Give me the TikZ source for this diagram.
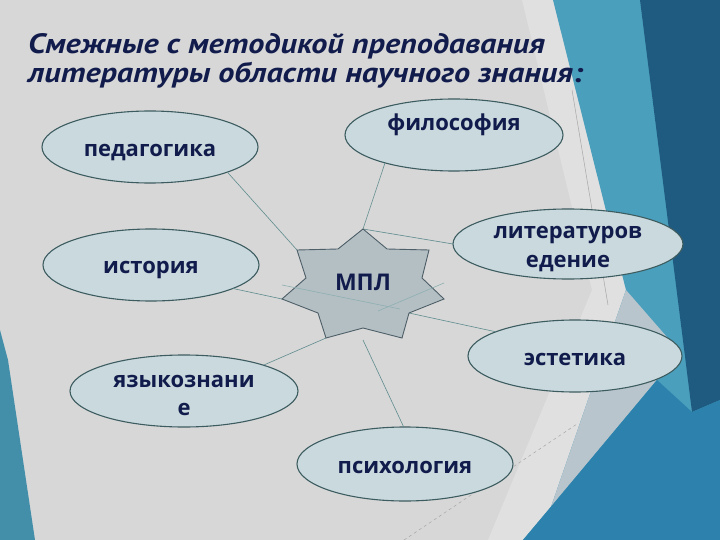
\documentclass[tikz,border=0pt]{standalone}
\usepackage{fontspec}
\setmainfont{Open Sans}
\newfontfamily\titlefont{PT Sans}[FakeStretch=1.15]
\newfontfamily\labfont{Open Sans}
\usetikzlibrary{shapes.geometric}
\definecolor{bgray}{HTML}{D7D7D7}
\definecolor{band}{HTML}{E0E0E0}
\definecolor{teal}{HTML}{4A9FBD}
\definecolor{grayblue}{HTML}{B9C5CC}
\definecolor{midblue}{HTML}{2C82AC}
\definecolor{darkblue}{HTML}{1F5B80}
\definecolor{navy}{HTML}{111C4C}
\definecolor{efill}{HTML}{CAD9DD}
\definecolor{edge}{HTML}{3C5C60}
\definecolor{sfill}{HTML}{B4BFC4}
\definecolor{sedge}{HTML}{4E5F68}
\definecolor{conncol}{HTML}{5E8C8E}
\tikzset{
  topic/.style={ellipse, draw=edge, fill=efill, line width=1.1pt, inner sep=0pt, outer sep=0pt},
  lbl/.style={anchor=base, text=navy, inner sep=0pt, font=\labfont\bfseries\fontsize{22}{26}\selectfont},
  ttl/.style={anchor=base west, text=navy, inner sep=0pt, font=\titlefont\bfseries\itshape\fontsize{28}{30}\selectfont},
  conn/.style={draw=conncol, line width=0.6pt},
  faint/.style={draw=gray!70, line width=0.5pt}
}
\begin{document}
\begin{tikzpicture}[x=1pt,y=-1pt]
\useasboundingbox (0,0) rectangle (720,540);
% background
\fill[bgray] (0,0) rectangle (720,540);
\fill[band] (522,0) -- (553,0) -- (626,290) -- (551,507) -- (523,540) -- (488,540) -- (592,290) -- cycle;
\fill[teal] (553,0) -- (720,0) -- (720,540) -- (523,540) -- (551,507) -- (626,290) -- cycle;
\fill[grayblue] (626,290) -- (680,352) -- (551,507) -- cycle;
\fill[darkblue] (640,0) -- (720,0) -- (720,400) -- (692,412) -- cycle;
\fill[midblue] (523,540) -- (657,380) -- (692,412) -- (720,400) -- (720,540) -- cycle;
\fill[teal!90!black] (0,330) -- (8,360) -- (35,540) -- (0,540) -- cycle;
\coordinate (bgA) at (572,90);
\coordinate (bgB) at (608,305);
\coordinate (bgC) at (404,540);
\coordinate (bgD) at (577,424);
\draw[faint] (bgA) -- (bgB);
\draw[faint, dashed] (bgC) -- (bgD);
% title
\node[ttl] (t1) at (28,54) {Смежные с методикой преподавания};
\node[ttl] (t2) at (28,83) {литературы области научного знания:};
% star points
\coordinate (sT) at (363,229);
\coordinate (s1) at (387,249);
\coordinate (sUR) at (429,250);
\coordinate (s2) at (422,278);
\coordinate (sR) at (444,299);
\coordinate (s3) at (409,313);
\coordinate (sLR) at (402,338);
\coordinate (s4) at (363,328);
\coordinate (sLL) at (326,338);
\coordinate (s5) at (318,313);
\coordinate (sL) at (282,299);
\coordinate (s6) at (306,278);
\coordinate (sUL) at (297,250);
\coordinate (s7) at (338,249);
\coordinate (pTop) at (363,340);
% ellipses
\node[topic, minimum width=216pt, minimum height=72pt] (ped) at (150,147) {};
\node[topic, minimum width=216pt, minimum height=72pt] (hist) at (151,265) {};
\node[topic, minimum width=218pt, minimum height=72pt] (phil) at (454,135) {};
\node[topic, minimum width=230pt, minimum height=70pt] (lit) at (568,244) {};
\node[topic, minimum width=214pt, minimum height=72pt] (est) at (575,356) {};
\node[topic, minimum width=228pt, minimum height=72pt] (lang) at (184,391) {};
\node[topic, minimum width=216pt, minimum height=74pt] (psy) at (405,464) {};
% connectors
\draw[conn] (ped.-18) -- (sUL);
\draw[conn] (phil.-158) -- (sT);
\draw[conn] (sT) -- (lit.west);
\draw[conn] (hist.-16) -- (sL);
\draw[conn] (est.163) -- (s3);
\draw[conn] (lang.18) -- (sLL);
\draw[conn] (pTop) -- (psy.92);
% star
\draw[fill=sfill, draw=sedge, line width=0.9pt, line join=miter]
  (sT) -- (s1) -- (sUR) -- (s2) -- (sR) -- (s3) -- (sLR) -- (s4) -- (sLL) -- (s5) -- (sL) -- (s6) -- (sUL) -- (s7) -- cycle;
\coordinate (iA) at (282,285);
\coordinate (iB) at (400,309);
\coordinate (iC) at (444,283);
\coordinate (iD) at (378,311);
\draw[draw=conncol!70, line width=0.6pt] (iA) -- (iB);
\draw[draw=conncol!70, line width=0.6pt] (iC) -- (iD);
% labels
\node[lbl, font=\labfont\bfseries\fontsize{23}{26}\selectfont] (mpl) at (363,290) {МПЛ};
\node[lbl] (pedt) at (150,157) {педагогика};
\node[lbl] (histt) at (151,273) {история};
\node[lbl] (philt) at (454,131) {философия};
\node[lbl] (litt1) at (568,238) {литературов};
\node[lbl] (litt2) at (568,267) {едение};
\node[lbl] (estt) at (575,365) {эстетика};
\node[lbl] (langt1) at (184,387) {языкознани};
\node[lbl] (langt2) at (184,415) {е};
\node[lbl] (psyt) at (405,473) {психология};
\end{tikzpicture}
\end{document}
